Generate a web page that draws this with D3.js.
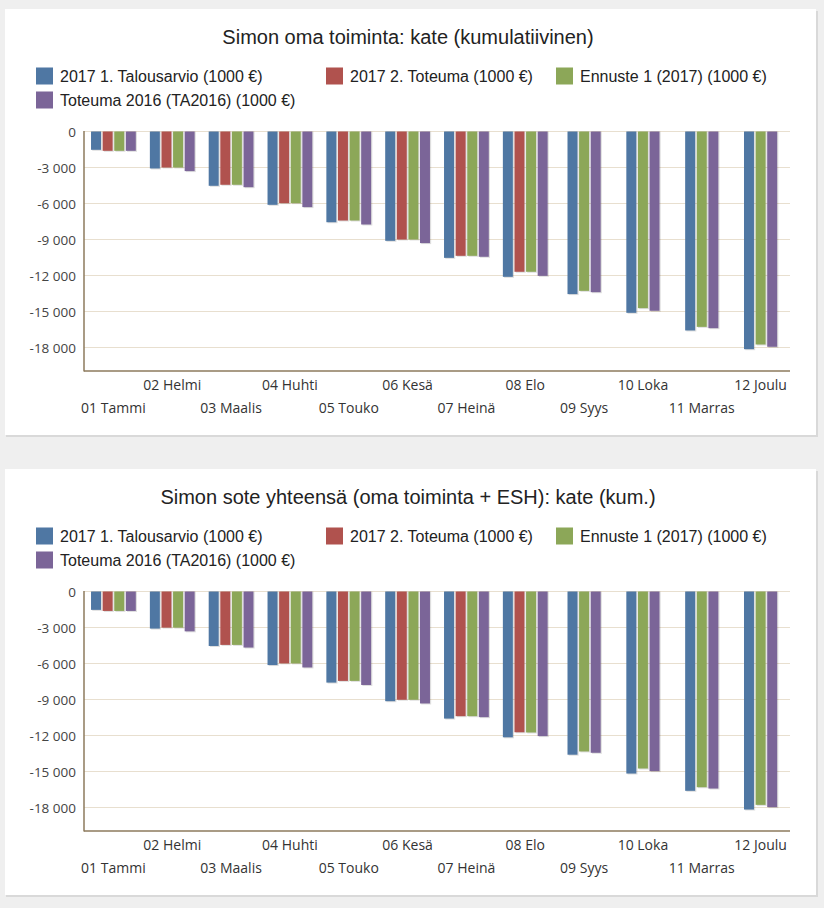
<!DOCTYPE html>
<html><head><meta charset="utf-8">
<script src="https://cdn.jsdelivr.net/npm/d3@7"></script>
<style>body{margin:0;background:#efefef;} svg{display:block}</style>
</head><body>
<svg id="c" width="824" height="908"></svg>
<script>
const months = ["01 Tammi","02 Helmi","03 Maalis","04 Huhti","05 Touko","06 Kesä","07 Heinä","08 Elo","09 Syys","10 Loka","11 Marras","12 Joulu"];
const seriesNames = ["2017 1. Talousarvio (1000 €)","2017 2. Toteuma (1000 €)","Ennuste 1 (2017) (1000 €)","Toteuma 2016 (TA2016) (1000 €)"];
const seriesColors = ["#4f77a3","#b0524e","#8ca758","#7b6598"];
const yTicks = [0,-3000,-6000,-9000,-12000,-15000,-18000];
const titles = ["Simon oma toiminta: kate (kumulatiivinen)","Simon sote yhteensä (oma toiminta + ESH): kate (kum.)"];

// Chart 1
const c1Budget   = [-1525,-3080,-4525,-6110,-7560,-9110,-10530,-12110,-13550,-15110,-16580,-18140];
const c1Actual   = [-1610,-3000,-4440,-5970,-7420,-9000,-10360,-11690,null,null,null,null];
const c1Forecast = [-1610,-3000,-4440,-5970,-7420,-9000,-10360,-11690,-13280,-14720,-16280,-17750];
const c1Prev     = [-1610,-3300,-4640,-6300,-7750,-9300,-10440,-12030,-13390,-14940,-16390,-17940];
// Chart 2
const c2Budget   = [-1530,-3090,-4540,-6130,-7590,-9140,-10590,-12150,-13600,-15170,-16610,-18170];
const c2Actual   = [-1620,-3010,-4450,-5990,-7450,-9020,-10390,-11730,null,null,null,null];
const c2Forecast = [-1620,-3010,-4450,-5990,-7450,-9020,-10390,-11750,-13330,-14750,-16310,-17780];
const c2Prev     = [-1620,-3320,-4670,-6330,-7790,-9330,-10470,-12050,-13440,-14970,-16420,-17970];

const charts = [
  {title: titles[0], offset: 0,   series: [c1Budget, c1Actual, c1Forecast, c1Prev]},
  {title: titles[1], offset: 460, series: [c2Budget, c2Actual, c2Forecast, c2Prev]}
];

const loc = d3.formatLocale({decimal: ",", thousands: " ", grouping: [3], currency: ["", " €"], minus: "-"});
const fmt = loc.format(",");

const svg = d3.select("#c");
const legendPos = [[36,76],[326,76],[556,76],[36,100]];

charts.forEach(ch => {
  const g = svg.append("g").attr("transform", `translate(0,${ch.offset})`);
  g.append("rect").attr("x", 6).attr("y", 11).attr("width", 812).attr("height", 426).attr("fill", "#d9d9d9");
  g.append("rect").attr("x", 5).attr("y", 9).attr("width", 811).attr("height", 426).attr("fill", "#ffffff");

  g.append("text").attr("x", 408).attr("y", 44).attr("text-anchor", "middle")
    .attr("font-family", "Liberation Sans, Arial, sans-serif").attr("font-size", 20).attr("fill", "#222")
    .text(ch.title);

  seriesNames.forEach((n, i) => {
    const [lx, ly] = legendPos[i];
    g.append("rect").attr("x", lx).attr("y", ly - 8.5).attr("width", 17).attr("height", 17).attr("fill", seriesColors[i]);
    g.append("text").attr("x", lx + 24).attr("y", ly + 6)
      .attr("font-family", "Liberation Sans, Arial, sans-serif").attr("font-size", 16).attr("fill", "#222")
      .text(n);
  });

  const x = d3.scaleBand().domain(months).range([84, 790]);
  const y = d3.scaleLinear().domain([0, -20000]).range([131.5, 371.5]);

  // grid
  g.append("g").selectAll("line").data(yTicks).join("line")
    .attr("x1", 84).attr("x2", 790).attr("y1", d => y(d)).attr("y2", d => y(d))
    .attr("stroke", "#e8dfcf").attr("stroke-width", 1.2);

  // y axis labels
  const ya = g.append("g").attr("transform", "translate(76,0)")
    .call(d3.axisLeft(y).tickValues(yTicks).tickSize(0).tickPadding(0).tickFormat(fmt));
  ya.select(".domain").remove();
  ya.selectAll("text").attr("font-family", "Open Sans, sans-serif").attr("font-size", 13.5).attr("fill", "#444").attr("dy", "0.36em");

  // bars
  const step = 11.6;
  months.forEach((m, mi) => {
    const present = ch.series.map((s, si) => si).filter(si => ch.series[si][mi] !== null);
    const cx = x(m) + x.bandwidth() / 2;
    const inner = d3.scaleBand().domain(present)
      .range([cx - present.length * step / 2, cx + present.length * step / 2])
      .paddingInner(0.14).paddingOuter(0.07);
    const bg = g.append("g");
    present.forEach(si => {
      const v = ch.series[si][mi];
      const bx = inner(si), bw = inner.bandwidth();
      bg.append("rect").attr("x", bx + 1.2).attr("y", y(0)).attr("width", bw).attr("height", y(v) - y(0) + 1)
        .attr("fill", "rgba(0,0,0,0.13)");
      bg.append("rect").attr("x", bx).attr("y", y(0)).attr("width", bw).attr("height", y(v) - y(0))
        .attr("fill", seriesColors[si]);
    });
  });

  // axes lines
  g.append("line").attr("x1", 84).attr("x2", 84).attr("y1", 131).attr("y2", 371.5).attr("stroke", "#8c7a5c").attr("stroke-width", 1.5);
  g.append("line").attr("x1", 84).attr("x2", 790).attr("y1", 371).attr("y2", 371).attr("stroke", "#8c7a5c").attr("stroke-width", 1.5);

  // x labels (staggered)
  const xa = g.append("g").attr("transform", "translate(0,371)")
    .call(d3.axisBottom(x).tickSize(0).tickPadding(0));
  xa.select(".domain").remove();
  xa.selectAll("text")
    .attr("font-family", "Open Sans, sans-serif").attr("font-size", 14).attr("fill", "#333")
    .attr("dy", null)
    .attr("y", (d, i) => i % 2 === 1 ? 19 : 42);
});
</script>
</body></html>
